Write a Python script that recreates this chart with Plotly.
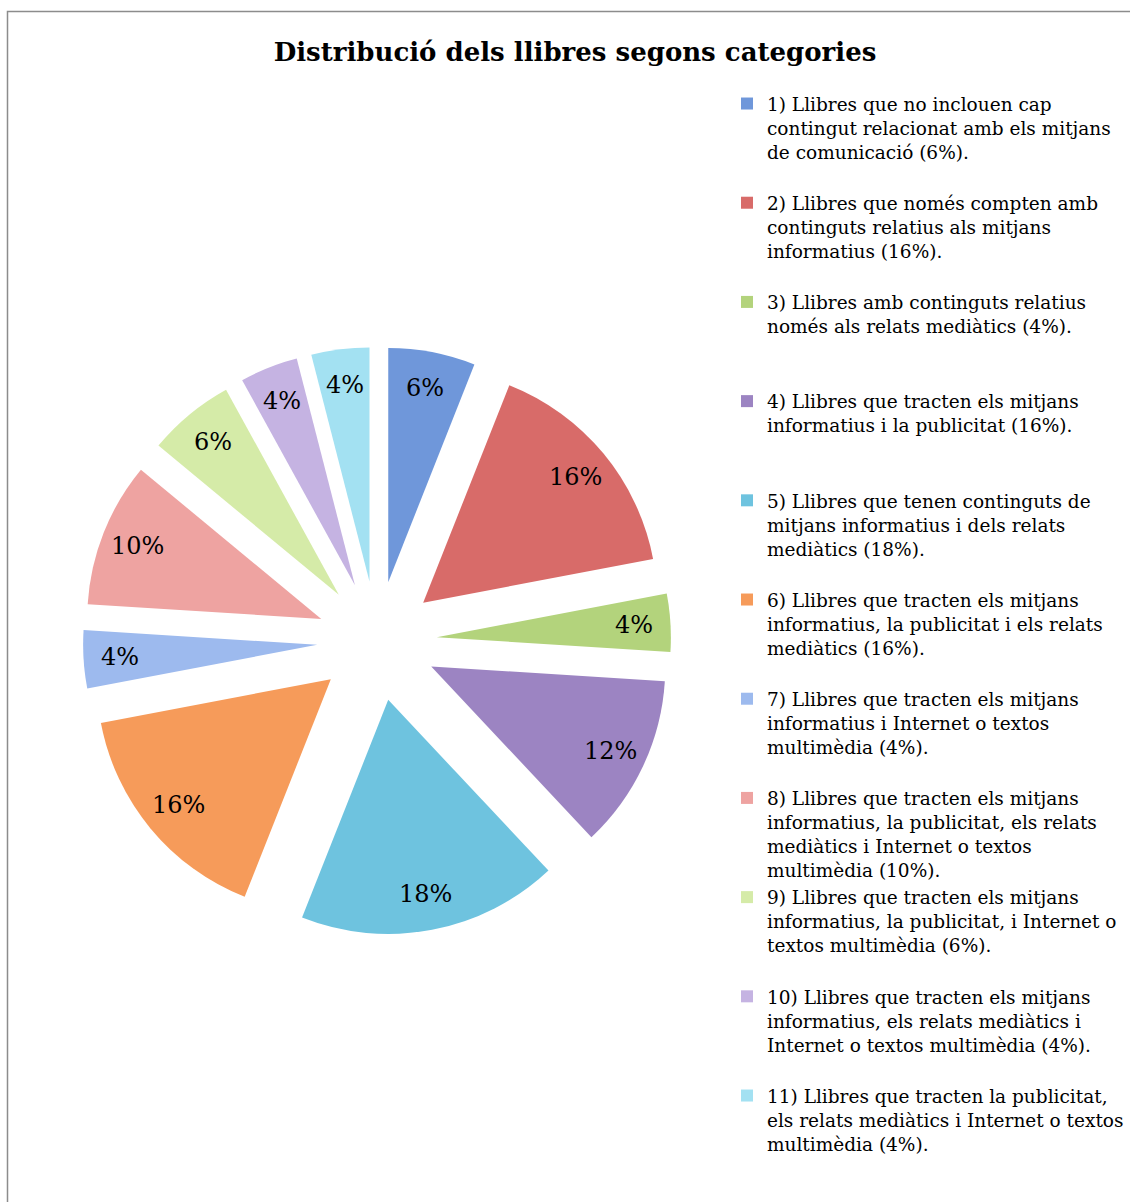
import math
import plotly.graph_objects as go

# Category shares (percent) as drawn in the pie
categories = [
    "1) Llibres que no inclouen cap<br>contingut relacionat amb els mitjans<br>de comunicació (6%).",
    "2) Llibres que només compten amb<br>continguts relatius als mitjans<br>informatius (16%).",
    "3) Llibres amb continguts relatius<br>només als relats mediàtics (4%).",
    "4) Llibres que tracten els mitjans<br>informatius i la publicitat (16%).",
    "5) Llibres que tenen continguts de<br>mitjans informatius i dels relats<br>mediàtics (18%).",
    "6) Llibres que tracten els mitjans<br>informatius, la publicitat i els relats<br>mediàtics (16%).",
    "7) Llibres que tracten els mitjans<br>informatius i Internet o textos<br>multimèdia (4%).",
    "8) Llibres que tracten els mitjans<br>informatius, la publicitat, els relats<br>mediàtics i Internet o textos<br>multimèdia (10%).",
    "9) Llibres que tracten els mitjans<br>informatius, la publicitat, i Internet o<br>textos multimèdia (6%).",
    "10) Llibres que tracten els mitjans<br>informatius, els relats mediàtics i<br>Internet o textos multimèdia (4%).",
    "11) Llibres que tracten la publicitat,<br>els relats mediàtics i Internet o textos<br>multimèdia (4%).",
]
shares = [6, 16, 4, 12, 18, 16, 4, 10, 6, 4, 4]

colors = [
    "#6F97DA", "#D86B69", "#B3D37C", "#9C84C2", "#6EC3DF", "#F69B5A",
    "#9DBAEE", "#EEA3A1", "#D5EBA8", "#C5B3E2", "#A3E1F2",
]

W, H = 1130, 1202
FONT = "DejaVu Serif"
PULL = 0.256

# pie box (pixels) – square so the radius fills it
box_x = (83, 671)
box_y = (347, 935)
cx_px = (box_x[0] + box_x[1]) / 2
cy_px = (box_y[0] + box_y[1]) / 2
radius_px = (box_x[1] - box_x[0]) / (2 + 2 * PULL)

# pad legend entries (except the last) to four lines so entries are evenly spaced
legend_labels = []
for i, c in enumerate(categories):
    n = c.count("<br>") + 1
    pad = 0 if i == len(categories) - 1 else 4 - n
    legend_labels.append(c + "<br>\u00a0" * pad)

fig = go.Figure(
    go.Pie(
        labels=legend_labels,
        values=shares,
        sort=False,
        direction="clockwise",
        rotation=0,
        pull=[PULL] * len(shares),
        marker=dict(colors=colors, line=dict(width=0)),
        textinfo="none",
        domain=dict(x=[box_x[0] / W, box_x[1] / W], y=[1 - box_y[1] / H, 1 - box_y[0] / H]),
        hoverinfo="label+percent",
    )
)

# percentage labels placed out along each slice's bisector
total = sum(shares)
annotations = []
cum = 0.0
for v in shares:
    mid = (cum + v / 2) / total * 2 * math.pi
    cum += v
    d = (PULL + 0.845) * radius_px
    x = cx_px + d * math.sin(mid)
    y = cy_px - d * math.cos(mid)
    annotations.append(
        dict(
            x=x / W,
            y=1 - y / H,
            xref="paper",
            yref="paper",
            text=f"{v}%",
            showarrow=False,
            xanchor="center",
            yanchor="middle",
            font=dict(family=FONT, size=24, color="#000000"),
        )
    )

fig.update_layout(
    width=W,
    height=H,
    margin=dict(l=0, r=0, t=0, b=0),
    paper_bgcolor="white",
    plot_bgcolor="white",
    title=dict(
        text="<b>Distribució dels llibres segons categories</b>",
        x=575 / W,
        xanchor="center",
        y=1 - 52 / H,
        yanchor="middle",
        font=dict(family=FONT, size=26, color="#000000"),
    ),
    legend=dict(
        x=727 / W,
        y=1 - 85 / H,
        xanchor="left",
        yanchor="top",
        valign="top",
        maxheight=1110,
        font=dict(family=FONT, size=18.5, color="#000000"),
        bgcolor="rgba(0,0,0,0)",
        traceorder="normal",
    ),
    annotations=annotations,
    shapes=[
        dict(
            type="rect",
            xref="paper",
            yref="paper",
            x0=7.5 / W,
            x1=1.02,
            y0=-0.02,
            y1=1 - 11.5 / H,
            line=dict(color="#8C8C8C", width=1.5),
            fillcolor="rgba(0,0,0,0)",
        )
    ],
)

fig.write_html("out.html")
